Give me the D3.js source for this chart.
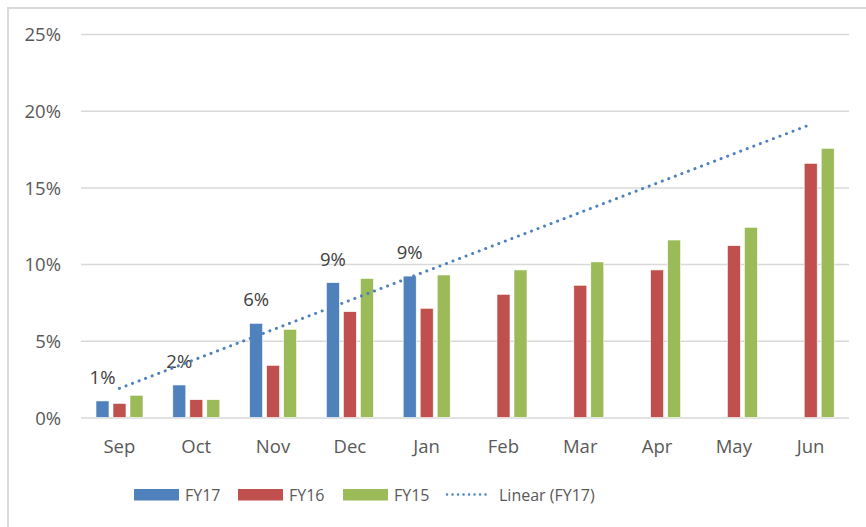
<script src="https://d3js.org/d3.v7.min.js"></script>
<style>
    body { margin: 0; background: #fff; }
    svg text { font-family: "Open Sans", "Noto Sans", sans-serif; }
</style>
<svg id="chart"></svg>
<script>
    // values, in percent
    var months = ["Sep","Oct","Nov","Dec","Jan","Feb","Mar","Apr","May","Jun"];
    var seriesNames = ["FY17","FY16","FY15"];
    var fy17 = [1.08, 2.12, 6.14, 8.79, 9.22, null, null, null, null, null];
    var fy16 = [0.92, 1.16, 3.40, 6.90, 7.12, 8.03, 8.62, 9.62, 11.2, 16.57];
    var fy15 = [1.45, 1.16, 5.75, 9.07, 9.29, 9.62, 10.14, 11.57, 12.4, 17.55];
    var fy17Labels = ["1%","2%","6%","9%","9%"];
    // linear trendline of FY17 as drawn (start at Sep, end at Jun)
    var trendFY17 = [{month:"Sep", value:1.9}, {month:"Jun", value:19.1}];
    var yTicks = [0, 5, 10, 15, 20, 25];

    var colors = {FY17:"#4F81BD", FY16:"#C0504D", FY15:"#9BBB59"};

    var screen = {width:866, height:527};
    var plot = {left:81, right:849, top:34, bottom:417.5};

    var svg = d3.select("#chart")
        .attr("width", screen.width)
        .attr("height", screen.height);

    // chart area border (only top and left edges show in the picture)
    svg.append("path")
        .attr("d", "M8,527 L8,8 L866,8")
        .attr("fill", "none")
        .attr("stroke", "#d9d9d9")
        .attr("stroke-width", 2);

    var x = d3.scaleBand()
        .domain(months)
        .range([plot.left, plot.right])
        .padding(0);

    var xInner = d3.scaleBand()
        .domain(seriesNames)
        .range([15, 62])
        .paddingInner(0.235)
        .paddingOuter(0);

    var y = d3.scaleLinear()
        .domain([0, 25])
        .range([plot.bottom, plot.top]);

    // gridlines + y tick labels
    var yAxis = svg.append("g")
        .attr("transform", "translate(" + plot.left + ",0)")
        .call(d3.axisLeft(y)
            .tickValues(yTicks)
            .tickSize(-(plot.right - plot.left))
            .tickPadding(20)
            .tickFormat(function(d){ return d + "%"; }));
    yAxis.select(".domain").remove();
    yAxis.selectAll(".tick line")
        .attr("stroke", "#d9d9d9")
        .attr("stroke-width", 1.5);
    yAxis.selectAll(".tick text")
        .attr("fill", "#595959")
        .attr("font-size", "18.5px")
        .attr("dy", "0.36em");

    // x axis labels
    var xAxis = svg.append("g")
        .attr("transform", "translate(0," + plot.bottom + ")")
        .call(d3.axisBottom(x).tickSize(0).tickPadding(22));
    xAxis.select(".domain").remove();
    xAxis.selectAll(".tick text")
        .attr("fill", "#595959")
        .attr("font-size", "18.5px");

    // bars
    var table = months.map(function(m, i) {
        return {month:m, values:[
            {series:"FY17", value:fy17[i]},
            {series:"FY16", value:fy16[i]},
            {series:"FY15", value:fy15[i]}
        ]};
    });

    var groups = svg.append("g")
        .selectAll("g")
        .data(table)
        .enter()
        .append("g")
        .attr("transform", function(d){ return "translate(" + x(d.month) + ",0)"; });

    groups.selectAll("rect")
        .data(function(d){ return d.values.filter(function(v){ return v.value != null; }); })
        .enter()
        .append("rect")
        .attr("x", function(d){ return xInner(d.series); })
        .attr("width", xInner.bandwidth())
        .attr("y", function(d){ return y(d.value); })
        .attr("height", function(d){ return y(0) - y(d.value); })
        .attr("fill", function(d){ return colors[d.series]; })
        .attr("stroke", "#fff")
        .attr("stroke-width", 0.6);

    // FY17 data labels
    svg.append("g")
        .selectAll("text")
        .data(fy17Labels)
        .enter()
        .append("text")
        .attr("x", function(d, i){ return x(months[i]) + xInner("FY17") + xInner.bandwidth() / 2; })
        .attr("y", function(d, i){ return y(fy17[i]) - 17; })
        .attr("text-anchor", "middle")
        .attr("fill", "#404040")
        .attr("font-size", "18.5px")
        .text(function(d){ return d; });

    // trendline
    var line = d3.line()
        .x(function(d){ return x(d.month) + x.bandwidth() / 2; })
        .y(function(d){ return y(d.value); });

    svg.append("path")
        .datum(trendFY17)
        .attr("d", line)
        .attr("fill", "none")
        .attr("stroke", colors.FY17)
        .attr("stroke-width", 3)
        .attr("stroke-linecap", "round")
        .attr("stroke-dasharray", "0.1,6.9");

    // legend
    var legendItems = [
        {name:"FY17", type:"bar", x:134},
        {name:"FY16", type:"bar", x:238},
        {name:"FY15", type:"bar", x:343},
        {name:"Linear (FY17)", type:"line", x:447}
    ];
    var legend = svg.append("g");
    legendItems.forEach(function(item) {
        if (item.type == "bar") {
            legend.append("rect")
                .attr("x", item.x)
                .attr("y", 489)
                .attr("width", 45)
                .attr("height", 11.5)
                .attr("fill", colors[item.name]);
            legend.append("text")
                .attr("x", item.x + 51)
                .attr("y", 500.5)
                .attr("fill", "#595959")
                .attr("font-size", "16px")
                .text(item.name);
        } else {
            legend.append("line")
                .attr("x1", item.x)
                .attr("x2", item.x + 44)
                .attr("y1", 494.5)
                .attr("y2", 494.5)
                .attr("stroke", colors.FY17)
                .attr("stroke-width", 2.4)
                .attr("stroke-linecap", "round")
                .attr("stroke-dasharray", "0.1,5.4");
            legend.append("text")
                .attr("x", item.x + 52)
                .attr("y", 500.5)
                .attr("fill", "#595959")
                .attr("font-size", "16px")
                .text(item.name);
        }
    });
</script>
